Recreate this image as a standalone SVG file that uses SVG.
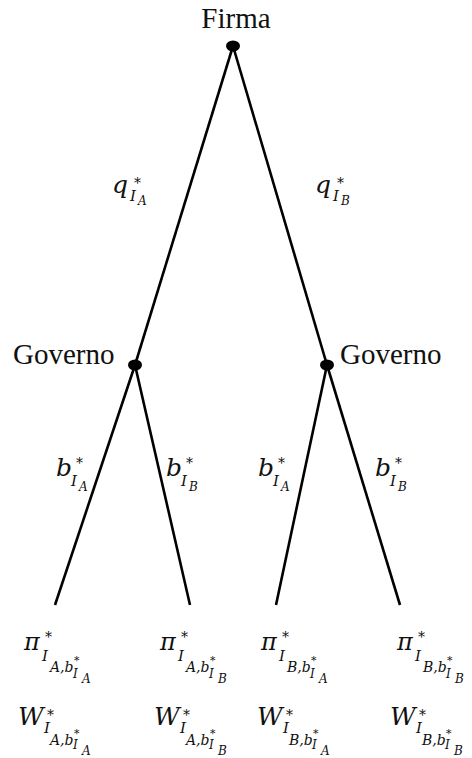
<svg xmlns="http://www.w3.org/2000/svg" width="472" height="758" viewBox="0 0 472 758">
<style>
.bg{fill:#fff}
.edge{stroke:#000;stroke-width:2.6;fill:none;stroke-linecap:butt}
.dot{fill:#000}
.t{font-family:"Liberation Serif","Times New Roman",serif;font-size:29px;fill:#111}
.m{font-family:"DejaVu Serif",serif;font-style:italic;font-size:25px;fill:#111}
.mp{font-family:"DejaVu Serif",serif;font-style:italic;font-size:24px;fill:#111}
.s{font-family:"DejaVu Serif",serif;font-style:italic;font-size:15px;fill:#111}
.s2{font-family:"DejaVu Serif",serif;font-style:italic;font-size:14px;fill:#111}
.ss{font-family:"DejaVu Serif",serif;font-style:italic;font-size:12px;fill:#111}
.st{font-family:"DejaVu Serif",serif;font-size:14px;fill:#111}
.st2{font-family:"DejaVu Serif",serif;font-size:11px;fill:#111}
</style>
<rect class="bg" x="0" y="0" width="472" height="758"/>
<g id="connectors">
  <line class="edge" x1="233" y1="46" x2="135" y2="365"/>
  <line class="edge" x1="233" y1="46" x2="327" y2="365"/>
  <line class="edge" x1="135" y1="365" x2="55" y2="605"/>
  <line class="edge" x1="135" y1="365" x2="190" y2="605"/>
  <line class="edge" x1="327" y1="365" x2="276" y2="605"/>
  <line class="edge" x1="327" y1="365" x2="400" y2="605"/>
  <g id="edge-labels">
    <text class="m" x="112" y="193">q</text><text class="st" x="134" y="188">*</text><text class="s" x="130" y="201">I</text><text class="ss" x="138" y="205">A</text>
    <text class="m" x="315" y="193">q</text><text class="st" x="337" y="188">*</text><text class="s" x="333" y="201">I</text><text class="ss" x="341" y="205">B</text>
    <text class="m" x="56" y="476">b</text><text class="st" x="76" y="468">*</text><text class="s" x="71" y="486">I</text><text class="ss" x="79" y="491">A</text>
    <text class="m" x="166" y="476">b</text><text class="st" x="186" y="468">*</text><text class="s" x="181" y="486">I</text><text class="ss" x="189" y="491">B</text>
    <text class="m" x="258" y="476">b</text><text class="st" x="278" y="468">*</text><text class="s" x="273" y="486">I</text><text class="ss" x="281" y="491">A</text>
    <text class="m" x="375" y="476">b</text><text class="st" x="395" y="468">*</text><text class="s" x="390" y="486">I</text><text class="ss" x="398" y="491">B</text>
  </g>
</g>
<g id="node-firma">
  <ellipse class="dot" cx="233" cy="46" rx="7" ry="5.5"/>
  <text class="t" x="236" y="28" text-anchor="middle">Firma</text>
</g>
<g id="node-governo-left">
  <ellipse class="dot" cx="135" cy="365" rx="7" ry="5.5"/>
  <text class="t" x="13" y="364">Governo</text>
</g>
<g id="node-governo-right">
  <ellipse class="dot" cx="327" cy="365" rx="7" ry="5.5"/>
  <text class="t" x="340" y="364">Governo</text>
</g>
<g id="leaf-1">
  <text class="mp" x="24" y="650">π</text><text class="st" x="45" y="642">*</text><text class="s" x="42" y="661">I</text><text class="s2" x="50" y="672">A,b</text><text class="st2" x="74" y="664">*</text><text class="ss" x="73" y="678">I</text><text class="ss" x="82" y="683">A</text>
  <text class="m" x="18" y="725">W</text><text class="st" x="47" y="720">*</text><text class="s" x="44" y="733">I</text><text class="s2" x="50" y="745">A,b</text><text class="st2" x="74" y="737">*</text><text class="ss" x="73" y="749">I</text><text class="ss" x="82" y="755">A</text>
</g>
<g id="leaf-2">
  <text class="mp" x="160" y="650">π</text><text class="st" x="181" y="642">*</text><text class="s" x="178" y="661">I</text><text class="s2" x="186" y="672">A,b</text><text class="st2" x="210" y="664">*</text><text class="ss" x="209" y="678">I</text><text class="ss" x="218" y="683">B</text>
  <text class="m" x="154" y="725">W</text><text class="st" x="183" y="720">*</text><text class="s" x="180" y="733">I</text><text class="s2" x="186" y="745">A,b</text><text class="st2" x="210" y="737">*</text><text class="ss" x="209" y="749">I</text><text class="ss" x="218" y="755">B</text>
</g>
<g id="leaf-3">
  <text class="mp" x="261" y="650">π</text><text class="st" x="282" y="642">*</text><text class="s" x="279" y="661">I</text><text class="s2" x="287" y="672">B,b</text><text class="st2" x="311" y="664">*</text><text class="ss" x="310" y="678">I</text><text class="ss" x="319" y="683">A</text>
  <text class="m" x="257" y="725">W</text><text class="st" x="286" y="720">*</text><text class="s" x="283" y="733">I</text><text class="s2" x="289" y="745">B,b</text><text class="st2" x="313" y="737">*</text><text class="ss" x="312" y="749">I</text><text class="ss" x="321" y="755">A</text>
</g>
<g id="leaf-4">
  <text class="mp" x="397" y="650">π</text><text class="st" x="418" y="642">*</text><text class="s" x="415" y="661">I</text><text class="s2" x="423" y="672">B,b</text><text class="st2" x="447" y="664">*</text><text class="ss" x="446" y="678">I</text><text class="ss" x="455" y="683">B</text>
  <text class="m" x="390" y="725">W</text><text class="st" x="419" y="720">*</text><text class="s" x="416" y="733">I</text><text class="s2" x="422" y="745">B,b</text><text class="st2" x="446" y="737">*</text><text class="ss" x="445" y="749">I</text><text class="ss" x="454" y="755">B</text>
</g>
</svg>
